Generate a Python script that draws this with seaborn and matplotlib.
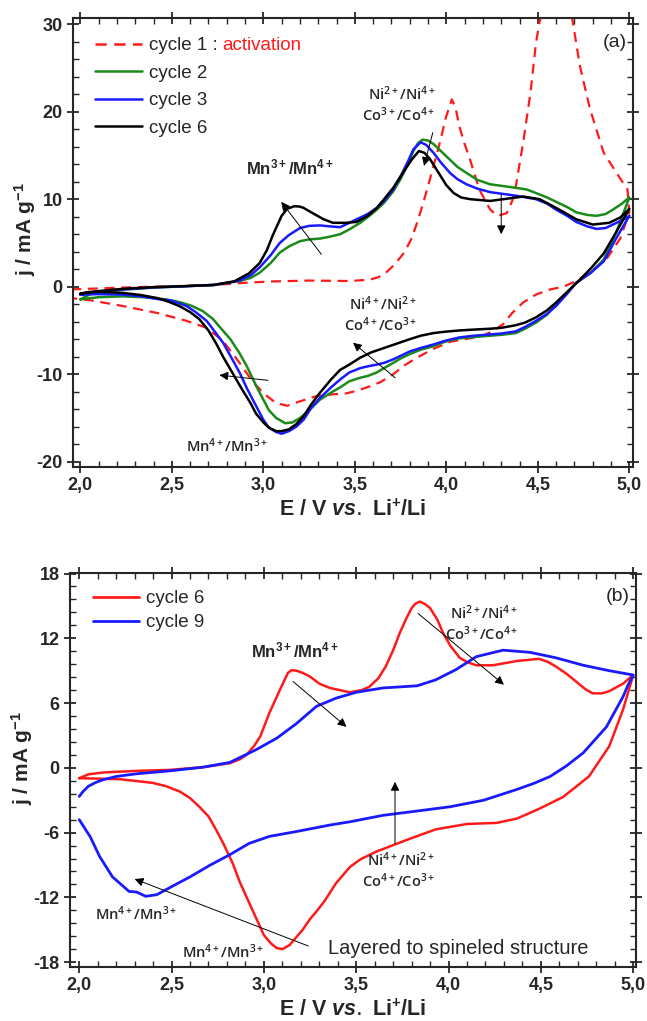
import numpy as np
import pandas as pd
import matplotlib
matplotlib.use('Agg')
import matplotlib.pyplot as plt
import seaborn as sns
from matplotlib.ticker import MultipleLocator

# ---------------- panel (a): cycles 1, 2, 3, 6 ----------------
# anodic sweep (up) and cathodic sweep (dn), E in V, j in mA/g

a_c1_up_E = [1.95, 2.10, 2.30, 2.50, 2.73, 2.90, 3.05, 3.25, 3.47, 3.58, 3.63, 3.67, 3.72, 3.77, 3.81,
             3.84, 3.87, 3.90, 3.93, 3.96, 4.00, 4.03, 4.05, 4.07, 4.10, 4.13, 4.18, 4.24, 4.28, 4.33,
             4.36, 4.38, 4.42, 4.46, 4.49, 4.52, 4.58, 4.62, 4.66, 4.685, 4.73, 4.785, 4.86, 4.93, 4.99]
a_c1_up_j = [-0.3, -0.2, -0.05, 0.05, 0.2, 0.45, 0.6, 0.7, 0.65, 0.8, 1.1, 1.6, 2.6, 3.9, 5.5,
             7.3, 9.3, 11.5, 13.8, 16.1, 19.5, 21.4, 20.5, 18.4, 16.3, 14.5, 11.1, 8.8, 8.1, 8.4,
             9.8, 11.5, 16.5, 22.2, 27.9, 31.5, 40.0, 42.0, 38.0, 31.0, 25.2, 20.3, 15.3, 13.0, 11.1]
a_c1_dn_E = [5.00, 4.95, 4.88, 4.80, 4.71, 4.64, 4.57, 4.49, 4.42, 4.36, 4.31, 4.25, 4.20, 4.10, 4.02,
             3.93, 3.84, 3.77, 3.71, 3.64, 3.58, 3.51, 3.45, 3.38, 3.29, 3.20, 3.13, 3.07, 3.02, 2.98,
             2.94, 2.87, 2.78, 2.69, 2.58, 2.42, 2.23, 2.07, 1.95]
a_c1_dn_j = [8.5, 5.5, 3.3, 1.9, 0.65, 0.0, -0.3, -0.9, -1.8, -3.0, -4.3, -5.1, -5.6, -6.0, -6.3,
             -7.1, -8.1, -9.0, -10.0, -10.9, -11.4, -11.9, -12.2, -12.3, -12.5, -13.1, -13.6, -13.3, -12.5, -11.7,
             -10.8, -8.7, -6.2, -4.7, -3.9, -3.0, -2.2, -1.6, -1.3]

a_c2_up_E = [2.00, 2.05, 2.10, 2.23, 2.40, 2.55, 2.73, 2.87, 2.93, 2.98, 3.04, 3.09, 3.14, 3.20, 3.25,
             3.31, 3.36, 3.42, 3.47, 3.53, 3.58, 3.62, 3.66, 3.71, 3.75, 3.79, 3.82, 3.845, 3.87, 3.90,
             3.93, 3.97, 4.02, 4.06, 4.11, 4.17, 4.24, 4.31, 4.38, 4.44, 4.49, 4.55, 4.60, 4.66, 4.71,
             4.77, 4.82, 4.87, 4.91, 4.96, 5.00]
a_c2_up_j = [-1.45, -0.9, -0.6, -0.35, -0.1, 0.03, 0.2, 0.65, 1.0, 1.6, 2.7, 3.9, 4.6, 5.2, 5.4,
             5.5, 5.7, 6.0, 6.55, 7.3, 8.1, 8.8, 9.6, 10.9, 12.3, 14.0, 15.5, 16.4, 16.8, 16.7,
             16.3, 15.5, 14.5, 13.7, 13.0, 12.2, 11.7, 11.5, 11.3, 11.1, 10.7, 10.2, 9.7, 9.1, 8.5,
             8.2, 8.1, 8.3, 8.8, 9.5, 10.2]
a_c2_dn_E = [5.00, 4.93, 4.86, 4.79, 4.71, 4.66, 4.60, 4.55, 4.49, 4.43, 4.38, 4.30, 4.24, 4.15, 4.07,
             3.99, 3.93, 3.86, 3.80, 3.75, 3.71, 3.66, 3.62, 3.57, 3.53, 3.47, 3.42, 3.37, 3.31, 3.27,
             3.235, 3.20, 3.16, 3.12, 3.07, 3.03, 3.00, 2.96, 2.91, 2.87, 2.82, 2.77, 2.725, 2.67, 2.61,
             2.55, 2.47, 2.35, 2.23, 2.10, 2.00]
a_c2_dn_j = [10.2, 6.3, 3.1, 1.6, 0.45, -0.7, -2.0, -3.2, -4.1, -4.8, -5.3, -5.5, -5.6, -5.75, -5.9,
             -6.3, -6.8, -7.2, -7.7, -8.2, -8.7, -9.3, -9.8, -10.2, -10.4, -10.8, -11.5, -12.1, -12.9, -13.7,
             -14.4, -15.0, -15.5, -15.6, -15.0, -14.1, -12.9, -11.3, -9.1, -7.6, -6.0, -4.8, -3.7, -2.8, -2.2,
             -1.8, -1.45, -1.2, -1.1, -1.2, -1.45]

a_c3_up_E = [2.00, 2.10, 2.23, 2.40, 2.55, 2.73, 2.87, 2.93, 2.98, 3.04, 3.09, 3.14, 3.20, 3.25, 3.31,
             3.36, 3.42, 3.47, 3.53, 3.57, 3.62, 3.66, 3.71, 3.75, 3.79, 3.82, 3.86, 3.89, 3.93, 3.97,
             4.02, 4.06, 4.11, 4.17, 4.24, 4.31, 4.38, 4.49, 4.55, 4.60, 4.66, 4.71, 4.77, 4.82, 4.87,
             4.91, 4.96, 5.00]
a_c3_up_j = [-0.9, -0.55, -0.3, -0.08, 0.03, 0.2, 0.7, 1.3, 2.2, 3.6, 5.0, 5.9, 6.7, 6.95, 7.0,
             6.9, 6.8, 7.3, 7.9, 8.3, 9.0, 9.8, 11.1, 12.6, 14.3, 15.7, 16.5, 16.2, 15.3, 14.2,
             13.0, 12.3, 11.7, 11.2, 10.8, 10.6, 10.4, 10.0, 9.5, 8.8, 8.1, 7.4, 6.9, 6.6, 6.7,
             7.1, 7.6, 8.1]
a_c3_dn_E = [5.00, 4.93, 4.86, 4.79, 4.71, 4.66, 4.60, 4.55, 4.49, 4.43, 4.38, 4.30, 4.24, 4.15, 4.07,
             3.99, 3.93, 3.86, 3.80, 3.75, 3.71, 3.66, 3.62, 3.57, 3.53, 3.47, 3.42, 3.37, 3.31, 3.26,
             3.22, 3.18, 3.14, 3.10, 3.07, 3.03, 3.00, 2.96, 2.91, 2.87, 2.82, 2.78, 2.73, 2.69, 2.63,
             2.58, 2.50, 2.42, 2.33, 2.23, 2.10, 2.00]
a_c3_dn_j = [8.1, 5.6, 2.9, 1.6, 0.45, -0.8, -2.2, -3.1, -3.9, -4.6, -5.1, -5.35, -5.45, -5.6, -5.8,
             -6.2, -6.6, -7.0, -7.4, -7.9, -8.3, -8.7, -8.9, -9.1, -9.3, -9.8, -10.6, -11.5, -12.7, -13.9,
             -15.2, -16.0, -16.5, -16.8, -16.6, -16.1, -15.2, -13.6, -11.6, -9.8, -7.9, -6.4, -5.0, -3.9, -2.9,
             -2.2, -1.6, -1.4, -1.1, -0.9, -0.85, -0.9]

a_c6_up_E = [2.00, 2.10, 2.23, 2.40, 2.55, 2.73, 2.84, 2.92, 2.98, 3.02, 3.05, 3.10, 3.13, 3.17, 3.20,
             3.22, 3.27, 3.33, 3.38, 3.45, 3.51, 3.57, 3.62, 3.66, 3.71, 3.75, 3.81, 3.85, 3.88, 3.91,
             3.94, 3.97, 4.00, 4.04, 4.08, 4.13, 4.24, 4.33, 4.42, 4.51, 4.60, 4.66, 4.71, 4.80, 4.89,
             4.95, 5.00]
a_c6_up_j = [-0.8, -0.5, -0.25, -0.05, 0.05, 0.2, 0.6, 1.5, 2.7, 4.2, 5.8, 8.1, 8.9, 9.2, 9.15,
             9.0, 8.4, 7.7, 7.3, 7.3, 7.4, 8.1, 9.0, 10.0, 11.3, 12.6, 14.5, 15.5, 15.3, 14.6,
             13.6, 12.6, 11.6, 10.7, 10.2, 10.0, 9.8, 10.05, 10.3, 10.0, 9.0, 8.3, 7.7, 7.1, 7.3,
             7.9, 8.9]
a_c6_dn_E = [5.00, 4.93, 4.86, 4.79, 4.73, 4.66, 4.60, 4.55, 4.49, 4.43, 4.38, 4.30, 4.24, 4.15, 4.07,
             3.99, 3.93, 3.86, 3.80, 3.73, 3.66, 3.59, 3.53, 3.47, 3.42, 3.37, 3.31, 3.26, 3.22, 3.18,
             3.14, 3.10, 3.07, 3.03, 3.00, 2.96, 2.93, 2.88, 2.83, 2.78, 2.74, 2.70, 2.65, 2.60, 2.54,
             2.48, 2.42, 2.33, 2.23, 2.12, 2.05, 2.00]
a_c6_dn_j = [8.9, 6.3, 3.8, 2.1, 0.8, -0.6, -1.8, -2.7, -3.5, -4.1, -4.4, -4.7, -4.8, -4.9, -5.0,
             -5.15, -5.3, -5.6, -6.0, -6.5, -7.0, -7.5, -8.1, -8.9, -9.5, -10.6, -12.1, -13.5, -14.8, -15.7,
             -16.3, -16.5, -16.5, -16.1, -15.5, -14.5, -13.3, -11.6, -9.8, -8.0, -6.4, -5.0, -3.7, -2.9, -2.2,
             -1.7, -1.3, -0.95, -0.7, -0.6, -0.6, -0.8]

# ---------------- panel (b): cycles 6 and 9 ----------------
b_c6_up_E = [2.00, 2.05, 2.13, 2.31, 2.49, 2.67, 2.815, 2.87, 2.906, 2.95, 2.98, 3.03, 3.086, 3.13, 3.15,
             3.176, 3.21, 3.25, 3.30, 3.357, 3.465, 3.53, 3.57, 3.62, 3.66, 3.70, 3.736, 3.77, 3.80, 3.82,
             3.844, 3.87, 3.90, 3.94, 3.97, 4.01, 4.06, 4.10, 4.15, 4.24, 4.37, 4.49, 4.54, 4.58, 4.64,
             4.69, 4.74, 4.78, 4.83, 4.87, 4.945, 5.00]
b_c6_up_j = [-0.96, -0.6, -0.43, -0.28, -0.19, 0.06, 0.43, 0.8, 1.2, 2.1, 2.9, 5.1, 7.2, 8.8, 9.05,
             9.0, 8.8, 8.45, 7.8, 7.4, 7.0, 7.2, 7.5, 8.3, 9.4, 10.9, 12.5, 13.8, 14.8, 15.2,
             15.4, 15.2, 14.8, 13.7, 12.5, 11.3, 10.2, 9.8, 9.5, 9.5, 9.9, 10.1, 9.8, 9.4, 8.7,
             8.0, 7.3, 6.9, 6.9, 7.1, 7.8, 8.6]
b_c6_dn_E = [5.00, 4.945, 4.87, 4.76, 4.62, 4.49, 4.37, 4.26, 4.10, 3.93, 3.77, 3.61, 3.52, 3.465, 3.39,
             3.33, 3.285, 3.25, 3.21, 3.14, 3.10, 3.07, 3.04, 3.00, 2.96, 2.92, 2.87, 2.83, 2.78, 2.74,
             2.70, 2.65, 2.60, 2.545, 2.47, 2.40, 2.22, 2.10, 2.00]
b_c6_dn_j = [8.6, 5.4, 2.0, -0.8, -2.7, -3.8, -4.7, -5.1, -5.2, -5.7, -6.7, -7.75, -8.5, -9.2, -10.7,
             -12.3, -13.3, -14.0, -15.0, -16.4, -16.8, -16.7, -16.3, -15.5, -14.0, -12.5, -10.6, -8.8, -7.0, -5.7,
             -4.5, -3.6, -2.8, -2.2, -1.7, -1.4, -1.05, -1.0, -0.96]

b_c9_up_E = [2.00, 2.02, 2.05, 2.09, 2.13, 2.20, 2.31, 2.49, 2.67, 2.815, 2.96, 3.07, 3.176, 3.285, 3.39,
             3.50, 3.645, 3.83, 3.93, 4.04, 4.15, 4.295, 4.44, 4.58, 4.73, 4.87, 5.00]
b_c9_up_j = [-2.65, -2.2, -1.7, -1.35, -1.1, -0.8, -0.55, -0.28, 0.06, 0.5, 1.7, 2.75, 4.1, 5.7, 6.45,
             7.0, 7.4, 7.6, 8.15, 9.1, 10.3, 10.9, 10.7, 10.2, 9.5, 9.0, 8.6]
b_c9_dn_E = [5.00, 4.97, 4.945, 4.90, 4.855, 4.73, 4.64, 4.55, 4.46, 4.37, 4.19, 4.01, 3.83, 3.645, 3.465,
             3.357, 3.176, 3.03, 2.92, 2.815, 2.71, 2.60, 2.49, 2.42, 2.36, 2.31, 2.27, 2.18, 2.11, 2.06,
             2.00]
b_c9_dn_j = [8.6, 7.6, 6.6, 5.2, 3.8, 1.4, 0.2, -0.8, -1.45, -2.0, -3.0, -3.6, -4.0, -4.4, -5.0,
             -5.3, -5.9, -6.35, -7.0, -8.05, -9.0, -10.1, -11.1, -11.75, -11.9, -11.5, -11.45, -10.1, -8.2, -6.4,
             -4.8]

x_ticks = [2.0, 2.5, 3.0, 3.5, 4.0, 4.5, 5.0]
a_y_ticks = [-20, -10, 0, 10, 20, 30]
b_y_ticks = [-18, -12, -6, 0, 6, 12, 18]

# ---------------- style ----------------
sns.set_style('ticks')
plt.rcParams['font.family'] = ['Liberation Sans', 'DejaVu Sans']
plt.rcParams['mathtext.fontset'] = 'custom'
plt.rcParams['mathtext.default'] = 'regular'
plt.rcParams['mathtext.it'] = 'Liberation Sans:italic:bold'
plt.rcParams['axes.unicode_minus'] = False

ION = dict(family=['Open Sans', 'DejaVu Sans'], fontweight='semibold', fontsize=10.5)
BOLD_ION = dict(fontweight='bold', fontsize=12)
RED = '#ff1a1a'
BLUE = '#1a1aff'


def draw_cycle(ax, up_E, up_j, dn_E, dn_j, color, label=None, **kw):
    E = list(up_E) + list(dn_E)
    j = list(up_j) + list(dn_j)
    sns.lineplot(x=E, y=j, sort=False, estimator=None, color=color,
                 label=label, ax=ax, **kw)


def arrow(ax, tail, head):
    ax.annotate('', xy=head, xytext=tail,
                arrowprops=dict(arrowstyle='-|>', color='black', lw=0.7,
                                mutation_scale=13, shrinkA=0, shrinkB=0))


def style_axes(ax, yticks, yminor, ylab_x):
    ax.set_xticks(x_ticks, labels=[f'{v:.1f}'.replace('.', ',') for v in x_ticks],
                  fontweight='bold', fontsize=13)
    ax.set_yticks(yticks, labels=[str(v) for v in yticks], fontweight='bold', fontsize=13)
    ax.xaxis.set_minor_locator(MultipleLocator(0.1))
    ax.yaxis.set_minor_locator(MultipleLocator(yminor))
    ax.tick_params(which='major', direction='inout', length=9, width=1.3,
                   top=True, right=True, pad=3)
    ax.tick_params(which='minor', direction='in', length=4, width=1.0,
                   top=True, right=True)
    for s in ax.spines.values():
        s.set_linewidth(1.5)
    ax.set_xlabel('E / V $\\it{vs.}$ Li$^{+}$/Li', fontweight='bold', fontsize=15.5, labelpad=4)
    ax.set_ylabel('j / mA g$^{-1}$', fontweight='bold', fontsize=15)
    ax.yaxis.set_label_coords(ylab_x, 0.53)


fig = plt.figure(figsize=(6.47, 10.21), dpi=100)
ax_a = fig.add_axes([73 / 647, 1 - 467 / 1021, 560 / 647, 449 / 1021])
ax_b = fig.add_axes([70 / 647, 1 - 967 / 1021, 566 / 647, 394 / 1021])

# ---- panel (a) ----
draw_cycle(ax_a, a_c1_up_E, a_c1_up_j, a_c1_dn_E, a_c1_dn_j, RED, 'cycle 1 :',
           linewidth=1.6, linestyle=(0, (4.5, 3)))
draw_cycle(ax_a, a_c2_up_E, a_c2_up_j, a_c2_dn_E, a_c2_dn_j, '#1a8a1a', 'cycle 2', linewidth=1.8)
draw_cycle(ax_a, a_c3_up_E, a_c3_up_j, a_c3_dn_E, a_c3_dn_j, BLUE, 'cycle 3', linewidth=1.8)
draw_cycle(ax_a, a_c6_up_E, a_c6_up_j, a_c6_dn_E, a_c6_dn_j, 'black', 'cycle 6', linewidth=1.8)

ax_a.set_xlim(1.96, 5.02)
ax_a.set_ylim(-20.6, 30.7)
style_axes(ax_a, a_y_ticks, 2, -0.062)

leg_a = ax_a.legend(loc='upper left', bbox_to_anchor=(0.02, 0.982), frameon=False,
                    fontsize=13.5, handlelength=2.5, handletextpad=0.35, labelspacing=0.55,
                    borderaxespad=0.2)
for h in leg_a.get_lines():
    h.set_linewidth(1.8)

ax_a.text(3.146, 13.6, 'Mn$^{3+}$/Mn$^{4+}$', ha='center', va='center', **BOLD_ION)
arrow(ax_a, (3.317, 3.7), (3.098, 9.7))
ax_a.text(3.94, 20.8, 'Ni$^{2+}$/Ni$^{4+}$\nCo$^{3+}$/Co$^{4+}$', ha='right', va='center',
          multialignment='right', linespacing=1.15, **ION)
arrow(ax_a, (3.926, 17.6), (3.878, 13.8))
arrow(ax_a, (4.30, 10.5), (4.30, 6.0))
ax_a.text(3.84, -3.15, 'Ni$^{4+}$/Ni$^{2+}$\nCo$^{4+}$/Co$^{3+}$', ha='right', va='center',
          multialignment='right', linespacing=1.15, **ION)
arrow(ax_a, (3.72, -10.4), (3.49, -6.4))
arrow(ax_a, (3.026, -10.7), (2.76, -10.1))
ax_a.text(2.80, -18.2, 'Mn$^{4+}$/Mn$^{3+}$', ha='center', va='center', **ION)
ax_a.text(4.985, 27.9, '(a)', ha='right', va='center', fontsize=14)

# ---- panel (b) ----
draw_cycle(ax_b, b_c6_up_E, b_c6_up_j, b_c6_dn_E, b_c6_dn_j, RED, 'cycle 6', linewidth=1.8)
draw_cycle(ax_b, b_c9_up_E, b_c9_up_j, b_c9_dn_E, b_c9_dn_j, BLUE, 'cycle 9', linewidth=2.0)

ax_b.set_xlim(1.95, 5.015)
ax_b.set_ylim(-18.45, 18.05)
style_axes(ax_b, b_y_ticks, 1.2, -0.062)

leg_b = ax_b.legend(loc='upper left', bbox_to_anchor=(0.02, 0.985), frameon=False,
                    fontsize=13.5, handlelength=2.5, handletextpad=0.35, labelspacing=0.37,
                    borderaxespad=0.2)
for h in leg_b.get_lines():
    h.set_linewidth(2.0)

ax_b.text(3.17, 10.9, 'Mn$^{3+}$/Mn$^{4+}$', ha='center', va='center', **BOLD_ION)
arrow(ax_b, (3.158, 8.0), (3.447, 3.8))
ax_b.text(4.375, 13.4, 'Ni$^{2+}$/Ni$^{4+}$\nCo$^{3+}$/Co$^{4+}$', ha='right', va='center',
          multialignment='right', linespacing=1.15, **ION)
arrow(ax_b, (3.835, 14.3), (4.30, 7.7))
arrow(ax_b, (3.71, -7.0), (3.71, -1.3))
ax_b.text(3.925, -9.5, 'Ni$^{4+}$/Ni$^{2+}$\nCo$^{4+}$/Co$^{3+}$', ha='right', va='center',
          multialignment='right', linespacing=1.15, **ION)
ax_b.text(2.31, -13.5, 'Mn$^{4+}$/Mn$^{3+}$', ha='center', va='center', **ION)
ax_b.text(2.78, -17.0, 'Mn$^{4+}$/Mn$^{3+}$', ha='center', va='center', **ION)
ax_b.text(3.346, -16.7, 'Layered to spineled structure', ha='left', va='center', fontsize=14.5)
arrow(ax_b, (3.24, -16.5), (2.30, -10.3))
ax_b.text(4.98, 15.9, '(b)', ha='right', va='center', fontsize=14)

# red "activation" right after the first legend entry of panel (a)
fig.canvas.draw()
bb = leg_a.get_texts()[0].get_window_extent(fig.canvas.get_renderer())
fig.text((bb.x1 + 5) / fig.bbox.width, bb.y0 / fig.bbox.height, 'activation',
         ha='left', va='bottom', color=RED, fontsize=13.5)

fig.savefig('out.png', dpi=100)
